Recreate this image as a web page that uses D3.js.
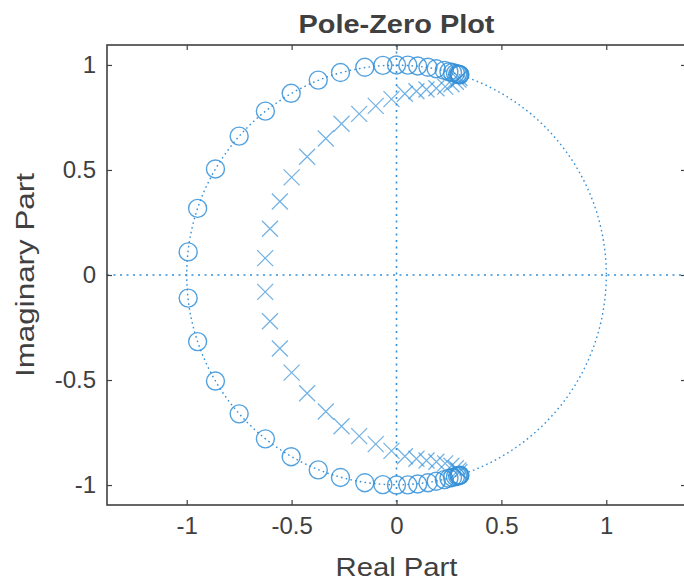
<!DOCTYPE html>
<html>
<head>
<meta charset="utf-8">
<script src="https://d3js.org/d3.v7.min.js"></script>
<style>
  body { margin: 0; background: #fff; }
  text { font-family: "Liberation Sans", Arial, sans-serif; fill: #404040; }
</style>
</head>
<body>
<div id="chart"></div>
<script>
var width = 684, height = 582;
var plot = {left: 107, right: 686, top: 45, bottom: 505};

// zeros (o) and poles (x)
var zerosRe = [-0.993, -0.948, -0.863, -0.750, -0.625, -0.502, -0.373, -0.267, -0.151, -0.065, 0.000, 0.054, 0.101, 0.150, 0.189, 0.228, 0.250, 0.267, 0.281, 0.291, 0.297, 0.301, 0.302,
               -0.993, -0.948, -0.863, -0.750, -0.625, -0.502, -0.373, -0.267, -0.151, -0.065, 0.000, 0.054, 0.101, 0.150, 0.189, 0.228, 0.250, 0.267, 0.281, 0.291, 0.297, 0.301, 0.302];
var zerosIm = [0.110, 0.317, 0.505, 0.661, 0.780, 0.865, 0.928, 0.964, 0.989, 0.998, 1.000, 0.999, 0.995, 0.989, 0.982, 0.974, 0.968, 0.964, 0.960, 0.957, 0.955, 0.954, 0.953,
               -0.110, -0.317, -0.505, -0.661, -0.780, -0.865, -0.928, -0.964, -0.989, -0.998, -1.000, -0.999, -0.995, -0.989, -0.982, -0.974, -0.968, -0.964, -0.960, -0.957, -0.955, -0.954, -0.953];
var polesRe = [-0.626, -0.603, -0.556, -0.500, -0.426, -0.337, -0.262, -0.178, -0.099, -0.024, 0.040, 0.095, 0.143, 0.190, 0.232, 0.262, 0.283, 0.295, 0.300,
               -0.626, -0.603, -0.556, -0.500, -0.426, -0.337, -0.262, -0.178, -0.099, -0.024, 0.040, 0.095, 0.143, 0.190, 0.232, 0.262, 0.283, 0.295, 0.300];
var polesIm = [0.080, 0.220, 0.350, 0.465, 0.563, 0.650, 0.720, 0.767, 0.805, 0.837, 0.863, 0.875, 0.883, 0.889, 0.897, 0.908, 0.920, 0.930, 0.938,
               -0.080, -0.220, -0.350, -0.465, -0.563, -0.650, -0.720, -0.767, -0.805, -0.837, -0.863, -0.875, -0.883, -0.889, -0.897, -0.908, -0.920, -0.930, -0.938];

var xTicks = [-1, -0.5, 0, 0.5, 1];
var yTicks = [-1, -0.5, 0, 0.5, 1];

var color = "#3590d8";

var x = d3.scaleLinear().domain([-1.38, 1.38]).range([plot.left, plot.right]);
var y = d3.scaleLinear().domain([-1.095, 1.095]).range([plot.bottom, plot.top]);

var svg = d3.select("#chart").append("svg")
  .attr("width", width)
  .attr("height", height);

svg.append("defs").append("clipPath").attr("id", "clip")
  .append("rect")
  .attr("x", plot.left).attr("y", plot.top)
  .attr("width", plot.right - plot.left).attr("height", plot.bottom - plot.top);

var g = svg.append("g").attr("clip-path", "url(#clip)");

// dotted reference lines
g.append("line")
  .attr("x1", plot.left).attr("x2", plot.right)
  .attr("y1", y(0)).attr("y2", y(0))
  .attr("stroke", color).attr("stroke-width", 1.6)
  .attr("stroke-dasharray", "2,4.5");
g.append("line")
  .attr("x1", x(0)).attr("x2", x(0))
  .attr("y1", plot.top).attr("y2", plot.bottom)
  .attr("stroke", color).attr("stroke-width", 1.6)
  .attr("stroke-dasharray", "2,4.5");

// unit circle
g.append("circle")
  .attr("cx", x(0)).attr("cy", y(0))
  .attr("r", x(1) - x(0))
  .attr("fill", "none")
  .attr("stroke", color).attr("stroke-width", 1.4)
  .attr("stroke-dasharray", "1.6,3.2");

// zeros
g.selectAll("circle.zero")
  .data(d3.range(zerosRe.length))
  .enter().append("circle")
  .attr("class", "zero")
  .attr("cx", function(i) { return x(zerosRe[i]); })
  .attr("cy", function(i) { return y(zerosIm[i]); })
  .attr("r", 9)
  .attr("fill", "none")
  .attr("stroke", color)
  .attr("stroke-width", 1.4)
  .attr("stroke-opacity", 0.85);

// poles
var s = 8;
g.selectAll("path.pole")
  .data(d3.range(polesRe.length))
  .enter().append("path")
  .attr("class", "pole")
  .attr("d", function(i) {
    var px = x(polesRe[i]), py = y(polesIm[i]);
    return "M" + (px - s) + "," + (py - s) + "L" + (px + s) + "," + (py + s) +
           "M" + (px - s) + "," + (py + s) + "L" + (px + s) + "," + (py - s);
  })
  .attr("fill", "none")
  .attr("stroke", color)
  .attr("stroke-width", 1.2)
  .attr("stroke-opacity", 0.7);

// axes with inward ticks, plain hyphen for minus
var fmt = function(d) { return String(d); };
var xAxisB = d3.axisBottom(x).tickValues(xTicks).tickSizeInner(-5).tickSizeOuter(0).tickPadding(12).tickFormat(fmt);
var xAxisT = d3.axisTop(x).tickValues(xTicks).tickSizeInner(-5).tickSizeOuter(0).tickFormat("");
var yAxisL = d3.axisLeft(y).tickValues(yTicks).tickSizeInner(-5).tickSizeOuter(0).tickPadding(11).tickFormat(fmt);
var yAxisR = d3.axisRight(y).tickValues(yTicks).tickSizeInner(-5).tickSizeOuter(0).tickFormat("");

function styleAxis(sel) {
  sel.select(".domain").remove();
  sel.selectAll("line").attr("stroke", "#404040").attr("stroke-width", 1.2);
  sel.selectAll("text").style("font-size", "24px").attr("fill", "#404040");
}

svg.append("g").attr("transform", "translate(0," + plot.bottom + ")").call(xAxisB).call(styleAxis)
  .selectAll("text").attr("dy", "0.71em");
svg.append("g").attr("transform", "translate(0," + plot.top + ")").call(xAxisT).call(styleAxis);
svg.append("g").attr("transform", "translate(" + plot.left + ",0)").call(yAxisL).call(styleAxis);
svg.append("g").attr("transform", "translate(" + plot.right + ",0)").call(yAxisR).call(styleAxis);

// box
svg.append("rect")
  .attr("x", plot.left).attr("y", plot.top)
  .attr("width", plot.right - plot.left).attr("height", plot.bottom - plot.top)
  .attr("fill", "none").attr("stroke", "#404040").attr("stroke-width", 1.6);

// labels
svg.append("text")
  .attr("x", x(0)).attr("y", 33)
  .attr("text-anchor", "middle")
  .attr("textLength", 196).attr("lengthAdjust", "spacingAndGlyphs")
  .style("font-size", "26px").style("font-weight", "bold")
  .attr("fill", "#262626")
  .text("Pole-Zero Plot");

svg.append("text")
  .attr("x", x(0)).attr("y", 576)
  .attr("text-anchor", "middle")
  .attr("textLength", 122).attr("lengthAdjust", "spacingAndGlyphs")
  .style("font-size", "26px")
  .text("Real Part");

svg.append("text")
  .attr("transform", "translate(34," + y(0) + ") rotate(-90)")
  .attr("text-anchor", "middle")
  .attr("textLength", 204).attr("lengthAdjust", "spacingAndGlyphs")
  .style("font-size", "26px")
  .text("Imaginary Part");
</script>
</body>
</html>
